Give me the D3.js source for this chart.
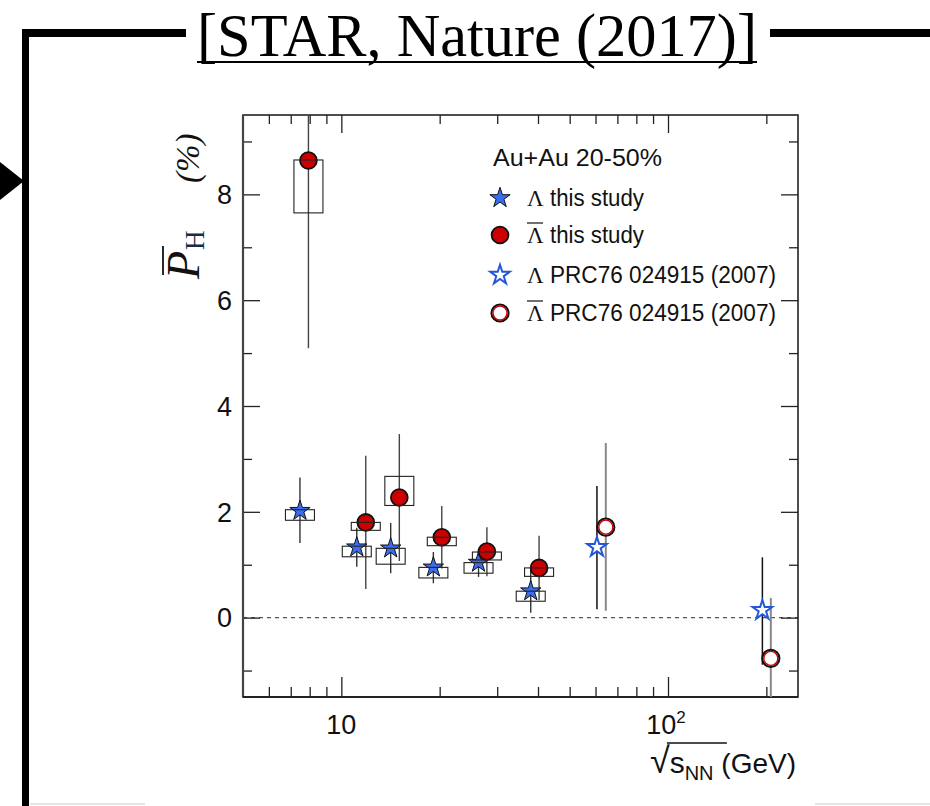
<!DOCTYPE html>
<html>
<head>
<meta charset="utf-8">
<script src="https://cdn.jsdelivr.net/npm/d3@7"></script>
<style>
  body { margin: 0; background: #fff; }
  svg { display: block; }
</style>
</head>
<body>
<svg id="chart" width="930" height="806"></svg>
<script>
// Lambda, this study (filled stars)
var lamX = [7.47, 11.15, 14.16, 19.13, 26.3, 38.0];
var lamY = [2.02, 1.33, 1.31, 0.95, 1.04, 0.50];
var lamErrLo = [1.41, 0.96, 0.84, 0.65, 0.77, 0.09];
var lamErrHi = [2.65, 1.70, 1.79, 1.24, 1.30, 0.91];
var lamSysLo = [1.84, 1.15, 1.01, 0.75, 0.84, 0.31];
var lamSysHi = [2.04, 1.35, 1.31, 0.95, 1.04, 0.50];

// anti-Lambda, this study (filled circles)
var abarX = [7.93, 11.88, 15.05, 20.3, 27.9, 40.3];
var abarY = [8.64, 1.80, 2.27, 1.52, 1.25, 0.94];
var abarErrLo = [5.09, 0.54, 1.07, 0.93, 0.78, 0.33];
var abarErrHi = [12.2, 3.06, 3.47, 2.11, 1.71, 1.55];
var abarSysLo = [7.65, 1.65, 2.12, 1.36, 1.09, 0.78];
var abarSysHi = [8.65, 1.80, 2.67, 1.52, 1.24, 0.94];

// PRC76 024915 (2007), open markers
var prcLamX = [60.6, 194.5];
var prcLamY = [1.33, 0.14];
var prcLamErrLo = [0.16, -0.89];
var prcLamErrHi = [2.49, 1.14];
var prcAbarX = [64.5, 206.4];
var prcAbarY = [1.71, -0.77];
var prcAbarErrLo = [0.13, -1.91];
var prcAbarErrHi = [3.30, 0.37];

// ticks
var yMajor = [0, 2, 4, 6, 8];
var yMinor = [-1, 1, 3, 5, 7, 9];
var xMajor = [10, 100];
var xMinor = [6, 7, 8, 9, 20, 30, 40, 50, 60, 70, 80, 90, 200];
var legendLabels = ["this study", "this study", "PRC76 024915 (2007)", "PRC76 024915 (2007)"];
var legendWidths = [94, 94, 226, 226];

var blue = "#3a6df0", red = "#cc0000";
var sans = "'Liberation Sans', Arial, sans-serif";
var serif = "'Liberation Serif', 'DejaVu Serif', serif";

var svg = d3.select("#chart");
svg.append("rect").attr("width", 930).attr("height", 806).attr("fill", "#fff");

// slide decoration: title + thick bracket lines
svg.append("rect").attr("x", 22).attr("y", 29).attr("width", 164).attr("height", 8).attr("fill", "#000");
svg.append("rect").attr("x", 770).attr("y", 29).attr("width", 160).attr("height", 8).attr("fill", "#000");
svg.append("rect").attr("x", 22).attr("y", 29).attr("width", 7).attr("height", 777).attr("fill", "#000");
svg.append("path").attr("d", "M0,162 L24,181 L0,200 Z").attr("fill", "#000");
svg.append("line").attr("x1", 30).attr("x2", 145).attr("y1", 804).attr("y2", 804)
  .attr("stroke", "#e4e4e4").attr("stroke-width", 2);
svg.append("line").attr("x1", 815).attr("x2", 930).attr("y1", 804).attr("y2", 804)
  .attr("stroke", "#e4e4e4").attr("stroke-width", 2);

svg.append("text")
  .attr("x", 197).attr("y", 56)
  .attr("textLength", 560).attr("lengthAdjust", "spacingAndGlyphs")
  .style("font-family", serif)
  .style("font-size", "62px")
  .attr("fill", "#000")
  .text("[STAR, Nature (2017)]");
svg.append("rect").attr("x", 197).attr("y", 61).attr("width", 560).attr("height", 2).attr("fill", "#000");

// plot area
var pLeft = 243, pRight = 798, pTop = 115, pBottom = 697;
var x = d3.scaleLog().domain([5, 250]).range([pLeft, pRight]);
var y = d3.scaleLinear().domain([-1.5, 9.5]).range([pBottom, pTop]);

var plot = svg.append("g");
svg.append("clipPath").attr("id", "clip")
  .append("rect").attr("x", pLeft).attr("y", pTop).attr("width", pRight - pLeft).attr("height", pBottom - pTop);

// zero line
plot.append("line")
  .attr("x1", pLeft).attr("x2", pRight).attr("y1", y(0)).attr("y2", y(0))
  .attr("stroke", "#555").attr("stroke-width", 1.2).attr("stroke-dasharray", "4,4");

// axes: ROOT style inward ticks on all four sides
function tickAxis(axis, vals, len, tx, ty) {
  var g = plot.append("g")
    .attr("transform", "translate(" + tx + "," + ty + ")")
    .call(axis.tickValues(vals).tickSize(-len).tickFormat(""));
  g.select(".domain").remove();
  g.selectAll(".tick line").attr("stroke", "#222").attr("stroke-width", 1.3);
  return g;
}
tickAxis(d3.axisBottom(x), xMajor, 20, 0, pBottom);
tickAxis(d3.axisBottom(x), xMinor, 10, 0, pBottom);
tickAxis(d3.axisTop(x), xMajor, 18, 0, pTop);
tickAxis(d3.axisTop(x), xMinor, 9, 0, pTop);
tickAxis(d3.axisLeft(y), yMajor, 17, pLeft, 0);
tickAxis(d3.axisLeft(y), yMinor, 9, pLeft, 0);
tickAxis(d3.axisRight(y), yMajor, 17, pRight, 0);
tickAxis(d3.axisRight(y), yMinor, 9, pRight, 0);

// frame
plot.append("rect")
  .attr("x", pLeft).attr("y", pTop).attr("width", pRight - pLeft).attr("height", pBottom - pTop)
  .attr("fill", "none").attr("stroke", "#222").attr("stroke-width", 1.6);
plot.append("line").attr("x1", pLeft).attr("x2", pLeft).attr("y1", pTop).attr("y2", pBottom)
  .attr("stroke", "#444").attr("stroke-width", 2.2);
plot.append("line").attr("x1", pLeft).attr("x2", pRight).attr("y1", pBottom).attr("y2", pBottom)
  .attr("stroke", "#222").attr("stroke-width", 2);

// y tick labels
plot.selectAll(".ylab").data(yMajor).enter().append("text")
  .attr("x", pLeft - 11).attr("y", function(d) { return y(d); })
  .attr("dy", "0.36em")
  .attr("text-anchor", "end")
  .style("font-family", sans)
  .style("font-size", "27px")
  .attr("fill", "#111")
  .text(function(d) { return d; });

// x tick labels
plot.append("text")
  .attr("x", x(10)).attr("y", 734).attr("text-anchor", "middle")
  .style("font-family", sans).style("font-size", "27px")
  .attr("fill", "#111").text("10");
var xl2 = plot.append("text")
  .attr("x", x(100) - 2).attr("y", 734).attr("text-anchor", "middle")
  .style("font-family", sans).style("font-size", "27px")
  .attr("fill", "#111");
xl2.append("tspan").text("10");
xl2.append("tspan").attr("dy", -11).style("font-size", "17px").text("2");

// x title: sqrt(s_NN) (GeV)
var xt = plot.append("text")
  .attr("x", pRight - 2).attr("y", 773).attr("text-anchor", "end")
  .style("font-family", sans).style("font-size", "28px")
  .attr("fill", "#111");
xt.append("tspan").style("font-size", "36px").text("\u221A");
xt.append("tspan").style("font-size", "30px").text("s");
xt.append("tspan").attr("dy", 7).style("font-size", "20px").text("NN");
xt.append("tspan").attr("dy", -7).text(" (GeV)");
var xtb = xt.node().getBBox();
plot.append("line")
  .attr("x1", xtb.x + 17).attr("x2", xtb.x + 77).attr("y1", xtb.y + 3).attr("y2", xtb.y + 3)
  .attr("stroke", "#111").attr("stroke-width", 1.4);

// y title
var yg = svg.append("g").attr("transform", "translate(199,279) rotate(-90)");
var pText = yg.append("text").attr("x", 0).attr("y", 0)
  .style("font-family", serif)
  .style("font-style", "italic").style("font-size", "46px").attr("fill", "#111").text("P");
var pw = pText.node().getComputedTextLength();
yg.append("line").attr("x1", 4).attr("x2", pw + 5).attr("y1", -36).attr("y2", -36)
  .attr("stroke", "#111").attr("stroke-width", 1.8);
yg.append("text").attr("x", pw + 1).attr("y", 5)
  .style("font-family", serif)
  .style("font-size", "27px").attr("fill", "#1a2a44").text("H");
yg.append("text").attr("x", 96).attr("y", 0)
  .style("font-family", serif)
  .style("font-style", "italic").style("font-size", "33px").attr("fill", "#111").text("(%)");

// markers
var star = d3.symbol().type(d3.symbolStar).size(128);
var starSmall = d3.symbol().type(d3.symbolStar).size(118);

function drawFilledStar(g, cx, cy) {
  g.append("path").attr("d", star()).attr("transform", "translate(" + cx + "," + cy + ")")
    .attr("fill", blue).attr("stroke", "#111").attr("stroke-width", 1);
}
function drawOpenStar(g, cx, cy) {
  g.append("path").attr("d", starSmall()).attr("transform", "translate(" + cx + "," + cy + ")")
    .attr("fill", "#fff").attr("stroke", "#2456d8").attr("stroke-width", 2);
}
function drawFilledCircle(g, cx, cy) {
  g.append("circle").attr("cx", cx).attr("cy", cy).attr("r", 8.4)
    .attr("fill", red).attr("stroke", "#111").attr("stroke-width", 1.8);
}
function drawOpenCircle(g, cx, cy) {
  g.append("circle").attr("cx", cx).attr("cy", cy).attr("r", 8.6)
    .attr("fill", "#fff").attr("stroke", "#111").attr("stroke-width", 2);
  g.append("circle").attr("cx", cx).attr("cy", cy).attr("r", 7)
    .attr("fill", "none").attr("stroke", red).attr("stroke-width", 1.4);
}

var data = plot.append("g").attr("clip-path", "url(#clip)");

// error bars
function errBars(xs, lo, hi, color, w) {
  data.selectAll(null).data(xs).enter().append("line")
    .attr("x1", function(d) { return x(d); }).attr("x2", function(d) { return x(d); })
    .attr("y1", function(d, i) { return y(lo[i]); })
    .attr("y2", function(d, i) { return y(hi[i]); })
    .attr("stroke", color).attr("stroke-width", w);
}
errBars(lamX, lamErrLo, lamErrHi, "#333", 1.4);
errBars(abarX, abarErrLo, abarErrHi, "#444", 1.4);
errBars(prcLamX, prcLamErrLo, prcLamErrHi, "#111", 1.5);
errBars(prcAbarX, prcAbarErrLo, prcAbarErrHi, "#888", 2);

lamX.forEach(function(d, i) { drawFilledStar(data, x(d), y(lamY[i])); });
abarX.forEach(function(d, i) { drawFilledCircle(data, x(d), y(abarY[i])); });
prcLamX.forEach(function(d, i) { drawOpenStar(data, x(d), y(prcLamY[i])); });
prcAbarX.forEach(function(d, i) { drawOpenCircle(data, x(d), y(prcAbarY[i])); });

// systematic boxes on top
function sysBoxes(xs, lo, hi) {
  data.selectAll(null).data(xs).enter().append("rect")
    .attr("x", function(d) { return x(d) - 14.5; })
    .attr("width", 29)
    .attr("y", function(d, i) { return y(hi[i]); })
    .attr("height", function(d, i) { return y(lo[i]) - y(hi[i]); })
    .attr("fill", "none").attr("stroke", "#222").attr("stroke-width", 1.1);
}
sysBoxes(lamX, lamSysLo, lamSysHi);
sysBoxes(abarX, abarSysLo, abarSysHi);

// legend
var lg = svg.append("g");
lg.append("text").attr("x", 493).attr("y", 166)
  .attr("textLength", 169).attr("lengthAdjust", "spacingAndGlyphs")
  .style("font-family", sans).style("font-size", "23px")
  .attr("fill", "#111").text("Au+Au 20-50%");
var rowY = [198, 235, 275, 313];
var drawers = [drawFilledStar, drawFilledCircle, drawOpenStar, drawOpenCircle];
rowY.forEach(function(ry, i) {
  drawers[i](lg, 500, ry);
  lg.append("text").attr("x", 527).attr("y", ry + 8)
    .style("font-family", serif).style("font-size", "23px")
    .attr("fill", "#111").text("\u039B");
  if (i % 2 === 1) {
    lg.append("line").attr("x1", 527).attr("x2", 543).attr("y1", ry - 12).attr("y2", ry - 12)
      .attr("stroke", "#111").attr("stroke-width", 1.2);
  }
  lg.append("text").attr("x", 550).attr("y", ry + 8)
    .attr("textLength", legendWidths[i]).attr("lengthAdjust", "spacingAndGlyphs")
    .style("font-family", sans).style("font-size", "23px")
    .attr("fill", "#111").text(legendLabels[i]);
});
</script>
</body>
</html>
